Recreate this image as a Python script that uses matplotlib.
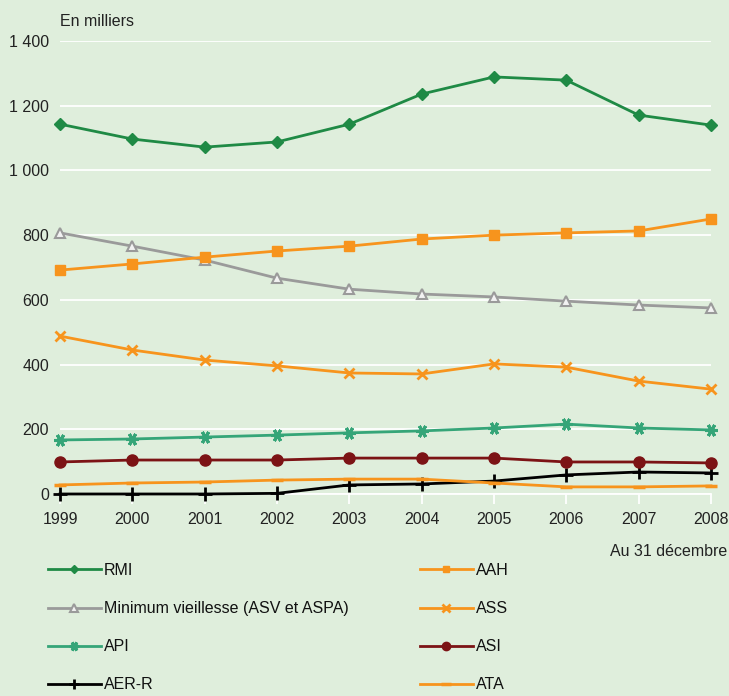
import matplotlib
matplotlib.use("Agg")
import matplotlib.pyplot as plt

years = [1999, 2000, 2001, 2002, 2003, 2004, 2005, 2006, 2007, 2008]
rmi = [1143, 1097, 1072, 1088, 1143, 1236, 1289, 1279, 1171, 1140]
min_vieillesse = [807, 766, 723, 667, 633, 618, 609, 596, 584, 575]
aah = [692, 711, 732, 751, 766, 788, 800, 807, 813, 850]
ass = [488, 445, 414, 396, 374, 371, 402, 392, 349, 324]
api = [167, 170, 176, 182, 189, 195, 204, 216, 204, 198]
asi = [99, 105, 105, 105, 111, 111, 111, 99, 99, 96]
ata = [28, 34, 37, 43, 46, 46, 34, 22, 22, 25]
aer_r = [0, 0, 0, 2, 28, 31, 40, 59, 68, 65]
yticks = [0, 200, 400, 600, 800, 1000, 1200, 1400]
ytick_labels = ["0", "200", "400", "600", "800", "1 000", "1 200", "1 400"]

BG = "#dfeedc"
FONT = ["Liberation Sans", "DejaVu Sans"]
plt.rcParams["font.family"] = FONT
FS = 11.5

fig = plt.figure(figsize=(7.29, 6.96), dpi=100, facecolor=BG)
ax = fig.add_axes([60/729, 1-494/696, (711-60)/729, (494-41)/696], facecolor=BG)

series = [
    ("RMI", rmi, dict(color="#1f8a45", marker="D", ms=6, mfc="#1f8a45", mec="#1f8a45")),
    ("Minimum vieillesse (ASV et ASPA)", min_vieillesse, dict(color="#9a9a9a", marker="^", ms=7, mfc="#f2f2f2", mec="#9a9a9a", mew=1.5)),
    ("API", api, dict(color="#35a578", marker=(6, 2, 90), ms=9, mec="#35a578", mew=2.2)),
    ("AER-R", aer_r, dict(color="#000000", marker="+", ms=10, mec="#000000", mew=2)),
    ("AAH", aah, dict(color="#f7941d", marker="s", ms=6.5, mfc="#f7941d", mec="#f7941d")),
    ("ASS", ass, dict(color="#f7941d", marker="x", ms=7, mec="#f7941d", mew=2)),
    ("ASI", asi, dict(color="#7c1315", marker="o", ms=8, mfc="#7c1315", mec="#7c1315")),
    ("ATA", ata, dict(color="#f7941d", marker="_", ms=9, mec="#f7941d", mew=2.5)),
]

handles = []
for label, vals, st in series:
    l, = ax.plot(years, vals, lw=2, label=label, clip_on=False, zorder=3, **st)
    handles.append(l)

ax.set_xlim(1999, 2008)
ax.set_ylim(0, 1400)
ax.set_yticks(yticks)
ax.set_yticklabels(ytick_labels, fontsize=FS)
ax.set_xticks(years)
ax.set_xticklabels([str(y) for y in years], fontsize=FS)
ax.grid(axis="y", color="white", lw=1.3, zorder=1)
for s in ["top", "right", "left"]:
    ax.spines[s].set_visible(False)
ax.spines["bottom"].set_color("white")
ax.spines["bottom"].set_linewidth(1.3)
ax.tick_params(axis="y", length=0, pad=8, labelcolor="#222222")
ax.tick_params(axis="x", length=7, color="white", width=1.3, pad=6, labelcolor="#222222")

fig.text(60/729, 1-22/696, "En milliers", fontsize=FS, ha="left", va="center", color="#222222")
fig.text(727/729, 1-552/696, "Au 31 décembre", fontsize=FS, ha="right", va="center", color="#222222")

kw = dict(frameon=False, fontsize=FS, handlelength=3.3, handletextpad=0.2, markerscale=0.75,
          labelspacing=1.45, borderaxespad=0, borderpad=0, labelcolor="#111111")
leg1 = fig.legend(handles=handles[:4], loc="upper left", bbox_to_anchor=(48/729, 1-563/696), **kw)
leg2 = fig.legend(handles=handles[4:], loc="upper left", bbox_to_anchor=(420/729, 1-563/696), **kw)

fig.savefig("out.png", dpi=100, facecolor=BG)
